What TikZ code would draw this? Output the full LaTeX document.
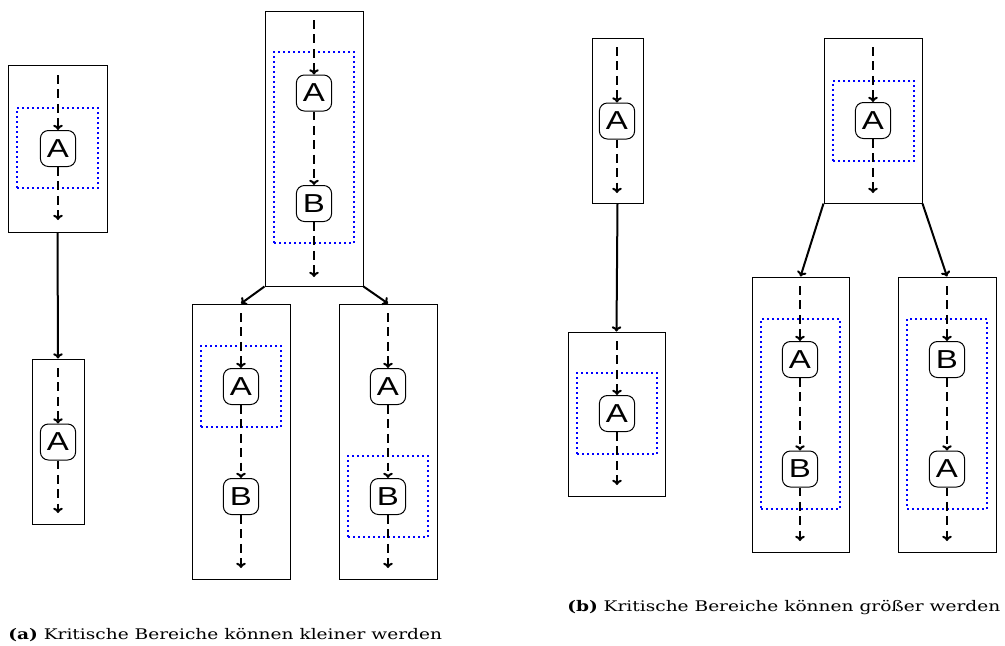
\documentclass[tikz,border=0pt]{standalone}
\usepackage{fontspec}
\setmainfont[FakeStretch=1.27]{DejaVu Serif}
\newfontfamily\blockfont[FakeStretch=1.27]{Liberation Sans}
\usetikzlibrary{fit,arrows.meta}

\begin{document}
\begin{tikzpicture}[x=0.25mm, y=-0.25mm,
		mybox/.style={draw, line width=0.25mm, inner sep=0pt},
		mycrit/.style={draw=blue, line width=0.45mm, dash pattern=on 0.45mm off 0.8mm, inner sep=0pt},
		myblock/.style={draw, line width=0.25mm, rounded corners=2mm, minimum width=8.8mm, minimum height=9mm, inner sep=0pt, font=\blockfont\fontsize{18.5}{18.5}\selectfont},
		myflow/.style={-{To[length=1.3mm, width=2.4mm]}, line width=0.5mm, dash pattern=on 2.2mm off 1.4mm},
		mylink/.style={-{To[length=1.3mm, width=2.4mm]}, line width=0.5mm},
		mycap/.style={anchor=base west, inner sep=0pt, font=\fontsize{10.4}{12}\selectfont}
	]

	\useasboundingbox (0,0) rectangle (1005,645);

	% (a) left: one block, then again after the edge
	\node[mybox, fit={(8,65) (107,232)}] (box1) {};
	\node[mycrit, fit={(17,108) (98,188)}] (crit1) {};
	\node[myblock] (a1) at (58,148.5) {A};
	\coordinate (s1) at (58,75);
	\coordinate (e1) at (58,220);
	\draw[myflow] (s1) -- (a1);
	\draw[myflow] (a1) -- (e1);

	\node[mybox, fit={(32,359) (84,524)}] (box2) {};
	\node[myblock] (a2) at (58,442) {A};
	\coordinate (s2) at (58,368);
	\coordinate (e2) at (58,513);
	\draw[myflow] (s2) -- (a2);
	\draw[myflow] (a2) -- (e2);

	\draw[mylink] (box1.south) -- (box2.north);

	% (a) right: A and B, split into two
	\node[mybox, fit={(265,11) (363,286)}] (box3) {};
	\node[mycrit, fit={(274,52) (354,243)}] (crit3) {};
	\node[myblock] (a3) at (314,93) {A};
	\node[myblock] (b3) at (314,203.5) {B};
	\coordinate (s3) at (314,20);
	\coordinate (e3) at (314,277);
	\draw[myflow] (s3) -- (a3);
	\draw[myflow] (a3) -- (b3);
	\draw[myflow] (b3) -- (e3);

	\node[mybox, fit={(192,304) (290,579)}] (box4) {};
	\node[mycrit, fit={(201,346) (281,427)}] (crit4) {};
	\node[myblock] (a4) at (241,386.5) {A};
	\node[myblock] (b4) at (241,496.5) {B};
	\coordinate (s4) at (241,313);
	\coordinate (e4) at (241,568);
	\draw[myflow] (s4) -- (a4);
	\draw[myflow] (a4) -- (b4);
	\draw[myflow] (b4) -- (e4);

	\node[mybox, fit={(339,304) (437,579)}] (box5) {};
	\node[mycrit, fit={(348,456) (428,537)}] (crit5) {};
	\node[myblock] (a5) at (388,386.5) {A};
	\node[myblock] (b5) at (388,496.5) {B};
	\coordinate (s5) at (388,313);
	\coordinate (e5) at (388,568);
	\draw[myflow] (s5) -- (a5);
	\draw[myflow] (a5) -- (b5);
	\draw[myflow] (b5) -- (e5);

	\draw[mylink] (box3.south west) -- (box4.north);
	\draw[mylink] (box3.south east) -- (box5.north);

	% (b) left
	\node[mybox, fit={(592,38) (643,203)}] (box6) {};
	\node[myblock] (a6) at (617,121) {A};
	\coordinate (s6) at (617,47);
	\coordinate (e6) at (617,193);
	\draw[myflow] (s6) -- (a6);
	\draw[myflow] (a6) -- (e6);

	\node[mybox, fit={(568,332) (665,496)}] (box7) {};
	\node[mycrit, fit={(577,373) (657,454)}] (crit7) {};
	\node[myblock] (a7) at (617,413.5) {A};
	\coordinate (s7) at (617,341);
	\coordinate (e7) at (617,485);
	\draw[myflow] (s7) -- (a7);
	\draw[myflow] (a7) -- (e7);

	\draw[mylink] (box6.south) -- (box7.north);

	% (b) right
	\node[mybox, fit={(824,38) (922,203)}] (box8) {};
	\node[mycrit, fit={(833,81) (914,161)}] (crit8) {};
	\node[myblock] (a8) at (873,120.5) {A};
	\coordinate (s8) at (873,47);
	\coordinate (e8) at (873,193);
	\draw[myflow] (s8) -- (a8);
	\draw[myflow] (a8) -- (e8);

	\node[mybox, fit={(752,277) (849,552)}] (box9) {};
	\node[mycrit, fit={(761,319) (840,509)}] (crit9) {};
	\node[myblock] (a9) at (800,359.5) {A};
	\node[myblock] (b9) at (800,469) {B};
	\coordinate (s9) at (800,286);
	\coordinate (e9) at (800,541);
	\draw[myflow] (s9) -- (a9);
	\draw[myflow] (a9) -- (b9);
	\draw[myflow] (b9) -- (e9);

	\node[mybox, fit={(898,277) (996,552)}] (box10) {};
	\node[mycrit, fit={(907,319) (987,509)}] (crit10) {};
	\node[myblock] (b10) at (947,359.5) {B};
	\node[myblock] (a10) at (947,469) {A};
	\coordinate (s10) at (947,286);
	\coordinate (e10) at (947,541);
	\draw[myflow] (s10) -- (b10);
	\draw[myflow] (b10) -- (a10);
	\draw[myflow] (a10) -- (e10);

	\draw[mylink] (box8.south west) -- (box9.north);
	\draw[mylink] (box8.south east) -- (box10.north);

	% captions
	\node[mycap] (capa) at (8,639) {\textbf{(a)} Kritische Bereiche können kleiner werden};
	\node[mycap] (capb) at (567,611) {\textbf{(b)} Kritische Bereiche können größer werden};

\end{tikzpicture}
\end{document}
